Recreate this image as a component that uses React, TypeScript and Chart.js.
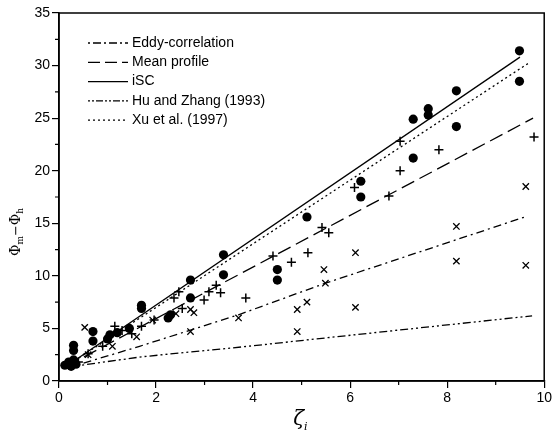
import React, { useEffect, useRef } from "react";
import { Chart, registerables } from "chart.js";

Chart.register(...registerables);

// Measured points: filled circles
const circleX = [0.12, 0.2, 0.25, 0.35, 0.3, 0.3, 0.3, 0.7, 0.7, 1.0, 1.05, 1.2, 1.45, 1.7, 1.7, 2.25, 2.3, 2.71, 2.71, 3.39, 3.39, 4.5, 4.5, 5.11, 6.22, 6.22, 7.3, 7.3, 7.61, 7.61, 8.19, 8.19, 9.49, 9.49];
const circleY = [1.5, 1.8, 1.4, 1.6, 2.0, 2.9, 3.4, 3.8, 4.7, 4.0, 4.4, 4.6, 5.0, 6.9, 7.2, 6.0, 6.3, 7.9, 9.6, 10.1, 12.0, 9.6, 10.6, 15.6, 17.5, 19.0, 21.2, 24.9, 25.3, 25.9, 24.2, 27.6, 28.5, 31.4];

// Measured points: plus markers
const plusX = [0.4, 0.6, 0.9, 1.15, 1.3, 1.5, 1.7, 1.96, 2.37, 2.47, 2.54, 2.99, 3.09, 3.24, 3.33, 3.85, 4.41, 4.79, 5.13, 5.42, 5.56, 6.09, 6.8, 7.03, 7.03, 7.83, 9.79];
const plusY = [1.8, 2.6, 3.3, 5.2, 4.8, 4.5, 5.2, 5.8, 7.9, 8.5, 6.9, 7.7, 8.5, 9.1, 8.4, 7.9, 11.9, 11.3, 12.2, 14.6, 14.1, 18.4, 17.6, 20.0, 22.8, 22.0, 23.2];

// Measured points: cross markers
const crossX = [0.53, 0.6, 1.1, 1.6, 1.93, 2.41, 2.71, 2.78, 2.71, 3.7, 4.91, 4.91, 5.11, 5.46, 5.49, 6.11, 6.11, 8.19, 8.19, 9.62, 9.62];
const crossY = [5.1, 2.5, 3.3, 4.2, 5.8, 6.4, 6.8, 6.5, 4.7, 6.0, 6.8, 4.7, 7.5, 10.6, 9.3, 12.2, 7.0, 14.7, 11.4, 18.5, 11.0];

// Model curves
const eddyX = [0.15, 1.66, 3.7, 5.49, 9.6];
const eddyY = [1.2, 3.3, 6.3, 9.3, 15.6];
const meanX = [0.15, 9.77];
const meanY = [1.4, 25.0];
const iscX = [0.15, 9.5];
const iscY = [1.4, 30.8];
const huX = [0.15, 1.7, 3.9, 5.3, 9.75];
const huY = [1.3, 2.3, 3.3, 4.0, 6.2];
const xuX = [0.15, 9.7];
const xuY = [1.4, 30.3];

const xTicks = [0, 2, 4, 6, 8, 10];
const yTicks = [0, 5, 10, 15, 20, 25, 30, 35];

const legendLabels = ["Eddy-correlation", "Mean profile", "iSC", "Hu and Zhang (1993)", "Xu et al. (1997)"];
const legendDashes: number[][] = [[2, 3, 8, 3], [12, 5], [], [2, 2, 2, 2, 7, 2], [2, 3]];

const pts = (xs: number[], ys: number[]) => xs.map((x, i) => ({ x, y: ys[i] }));

const FONT = "'Liberation Sans', Arial, sans-serif";

const decorPlugin = {
  id: "decor",
  afterDraw(chart: any) {
    const { ctx, chartArea: a, scales } = chart;
    const xs = scales.x;
    const ys = scales.y;
    ctx.save();
    ctx.strokeStyle = "#000";
    ctx.fillStyle = "#000";

    // frame
    ctx.lineWidth = 1.5;
    ctx.strokeRect(a.left, a.top, a.right - a.left, a.bottom - a.top);

    // minor ticks
    ctx.lineWidth = 1.2;
    ctx.beginPath();
    for (let v = 1; v < 10; v += 2) {
      const px = xs.getPixelForValue(v);
      ctx.moveTo(px, a.bottom);
      ctx.lineTo(px, a.bottom + 4);
    }
    for (let v = 2.5; v < 35; v += 5) {
      const py = ys.getPixelForValue(v);
      ctx.moveTo(a.left, py);
      ctx.lineTo(a.left - 4, py);
    }
    ctx.stroke();

    // legend
    const lx0 = a.left + 29;
    const lx1 = a.left + 69;
    ctx.font = `14px ${FONT}`;
    ctx.textBaseline = "middle";
    ctx.textAlign = "left";
    legendLabels.forEach((label, i) => {
      const y = a.top + 30 + i * 19.3;
      ctx.setLineDash(legendDashes[i]);
      ctx.lineWidth = 1.3;
      ctx.beginPath();
      ctx.moveTo(lx0, y);
      ctx.lineTo(lx1, y);
      ctx.stroke();
      ctx.setLineDash([]);
      ctx.fillText(label, lx1 + 4, y);
    });

    // y-axis title: Φm − Φh, rotated
    ctx.save();
    ctx.translate(20, 232);
    ctx.rotate(-Math.PI / 2);
    ctx.textBaseline = "alphabetic";
    ctx.textAlign = "left";
    const parts: [string, number, number][] = [
      ["Φ", 14, 0],
      ["m", 9, 3],
      ["−", 13, 0],
      ["Φ", 14, 0],
      ["h", 9, 3],
    ];
    let total = 0;
    parts.forEach(([t, s]) => {
      ctx.font = `${s}px 'DejaVu Serif', serif`;
      total += ctx.measureText(t).width;
    });
    let cx = -total / 2;
    parts.forEach(([t, s, dy]) => {
      ctx.font = `${s}px 'DejaVu Serif', serif`;
      ctx.fillText(t, cx, dy);
      cx += ctx.measureText(t).width;
    });
    ctx.restore();

    // x-axis title: ζ with subscript i
    const mid = (a.left + a.right) / 2;
    ctx.textBaseline = "alphabetic";
    ctx.textAlign = "left";
    ctx.font = `italic 20px 'DejaVu Serif', serif`;
    const zw = ctx.measureText("ζ").width;
    ctx.fillText("ζ", mid - zw / 2 - 3, 425);
    ctx.font = `italic 11px 'DejaVu Serif', serif`;
    ctx.fillText("i", mid + zw / 2 - 3, 430);

    ctx.restore();
  },
};

export default function App() {
  const ref = useRef<HTMLCanvasElement | null>(null);

  useEffect(() => {
    if (!ref.current) return;
    const lineDs = (label: string, xs: number[], ys: number[], dash: number[]) => ({
      type: "line" as const,
      label,
      data: pts(xs, ys),
      borderColor: "#000",
      borderWidth: 1.3,
      borderDash: dash,
      pointRadius: 0,
      fill: false,
      tension: 0,
    });
    const chart = new Chart(ref.current, {
      type: "scatter",
      data: {
        datasets: [
          lineDs("Eddy-correlation", eddyX, eddyY, [8, 4, 2, 4]),
          lineDs("Mean profile", meanX, meanY, [14, 6]),
          lineDs("iSC", iscX, iscY, []),
          lineDs("Hu and Zhang (1993)", huX, huY, [8, 3, 2, 3, 2, 3]),
          lineDs("Xu et al. (1997)", xuX, xuY, [2, 3]),
          {
            label: "circles",
            data: pts(circleX, circleY),
            pointStyle: "circle",
            pointRadius: 4.6,
            backgroundColor: "#000",
            borderColor: "#000",
            borderWidth: 0,
          },
          {
            label: "plus",
            data: pts(plusX, plusY),
            pointStyle: "cross",
            pointRadius: 4.5,
            borderColor: "#000",
            borderWidth: 1.5,
          },
          {
            label: "cross",
            data: pts(crossX, crossY),
            pointStyle: "crossRot",
            pointRadius: 4.5,
            borderColor: "#000",
            borderWidth: 1.3,
          },
        ],
      },
      options: {
        animation: false,
        responsive: false,
        maintainAspectRatio: false,
        layout: { padding: { left: 0, right: 7, top: 13, bottom: 0 } },
        plugins: { legend: { display: false }, tooltip: { enabled: false } },
        scales: {
          x: {
            type: "linear",
            min: 0,
            max: 10,
            afterBuildTicks: (s: any) => {
              s.ticks = xTicks.map((v) => ({ value: v }));
            },
            afterFit: (s: any) => {
              s.height = 62;
            },
            ticks: { color: "#000", font: { size: 14, family: FONT }, padding: 2, maxRotation: 0 },
            grid: { display: true, drawOnChartArea: false, tickLength: 7, color: "#000", lineWidth: 1.2 },
            border: { display: true, color: "#000", width: 1.5 },
          },
          y: {
            type: "linear",
            min: 0,
            max: 35,
            afterBuildTicks: (s: any) => {
              s.ticks = yTicks.map((v) => ({ value: v }));
            },
            afterFit: (s: any) => {
              s.width = 59;
            },
            ticks: { color: "#000", font: { size: 14, family: FONT }, padding: 2 },
            grid: { display: true, drawOnChartArea: false, tickLength: 7, color: "#000", lineWidth: 1.2 },
            border: { display: true, color: "#000", width: 1.5 },
          },
        },
      },
      plugins: [decorPlugin],
    } as any);
    return () => chart.destroy();
  }, []);

  return (
    <div style={{ position: "fixed", left: 0, top: 0, width: 554, height: 443, background: "#fff" }}>
      <canvas ref={ref} width={554} height={443} style={{ width: 554, height: 443, display: "block" }} />
    </div>
  );
}
